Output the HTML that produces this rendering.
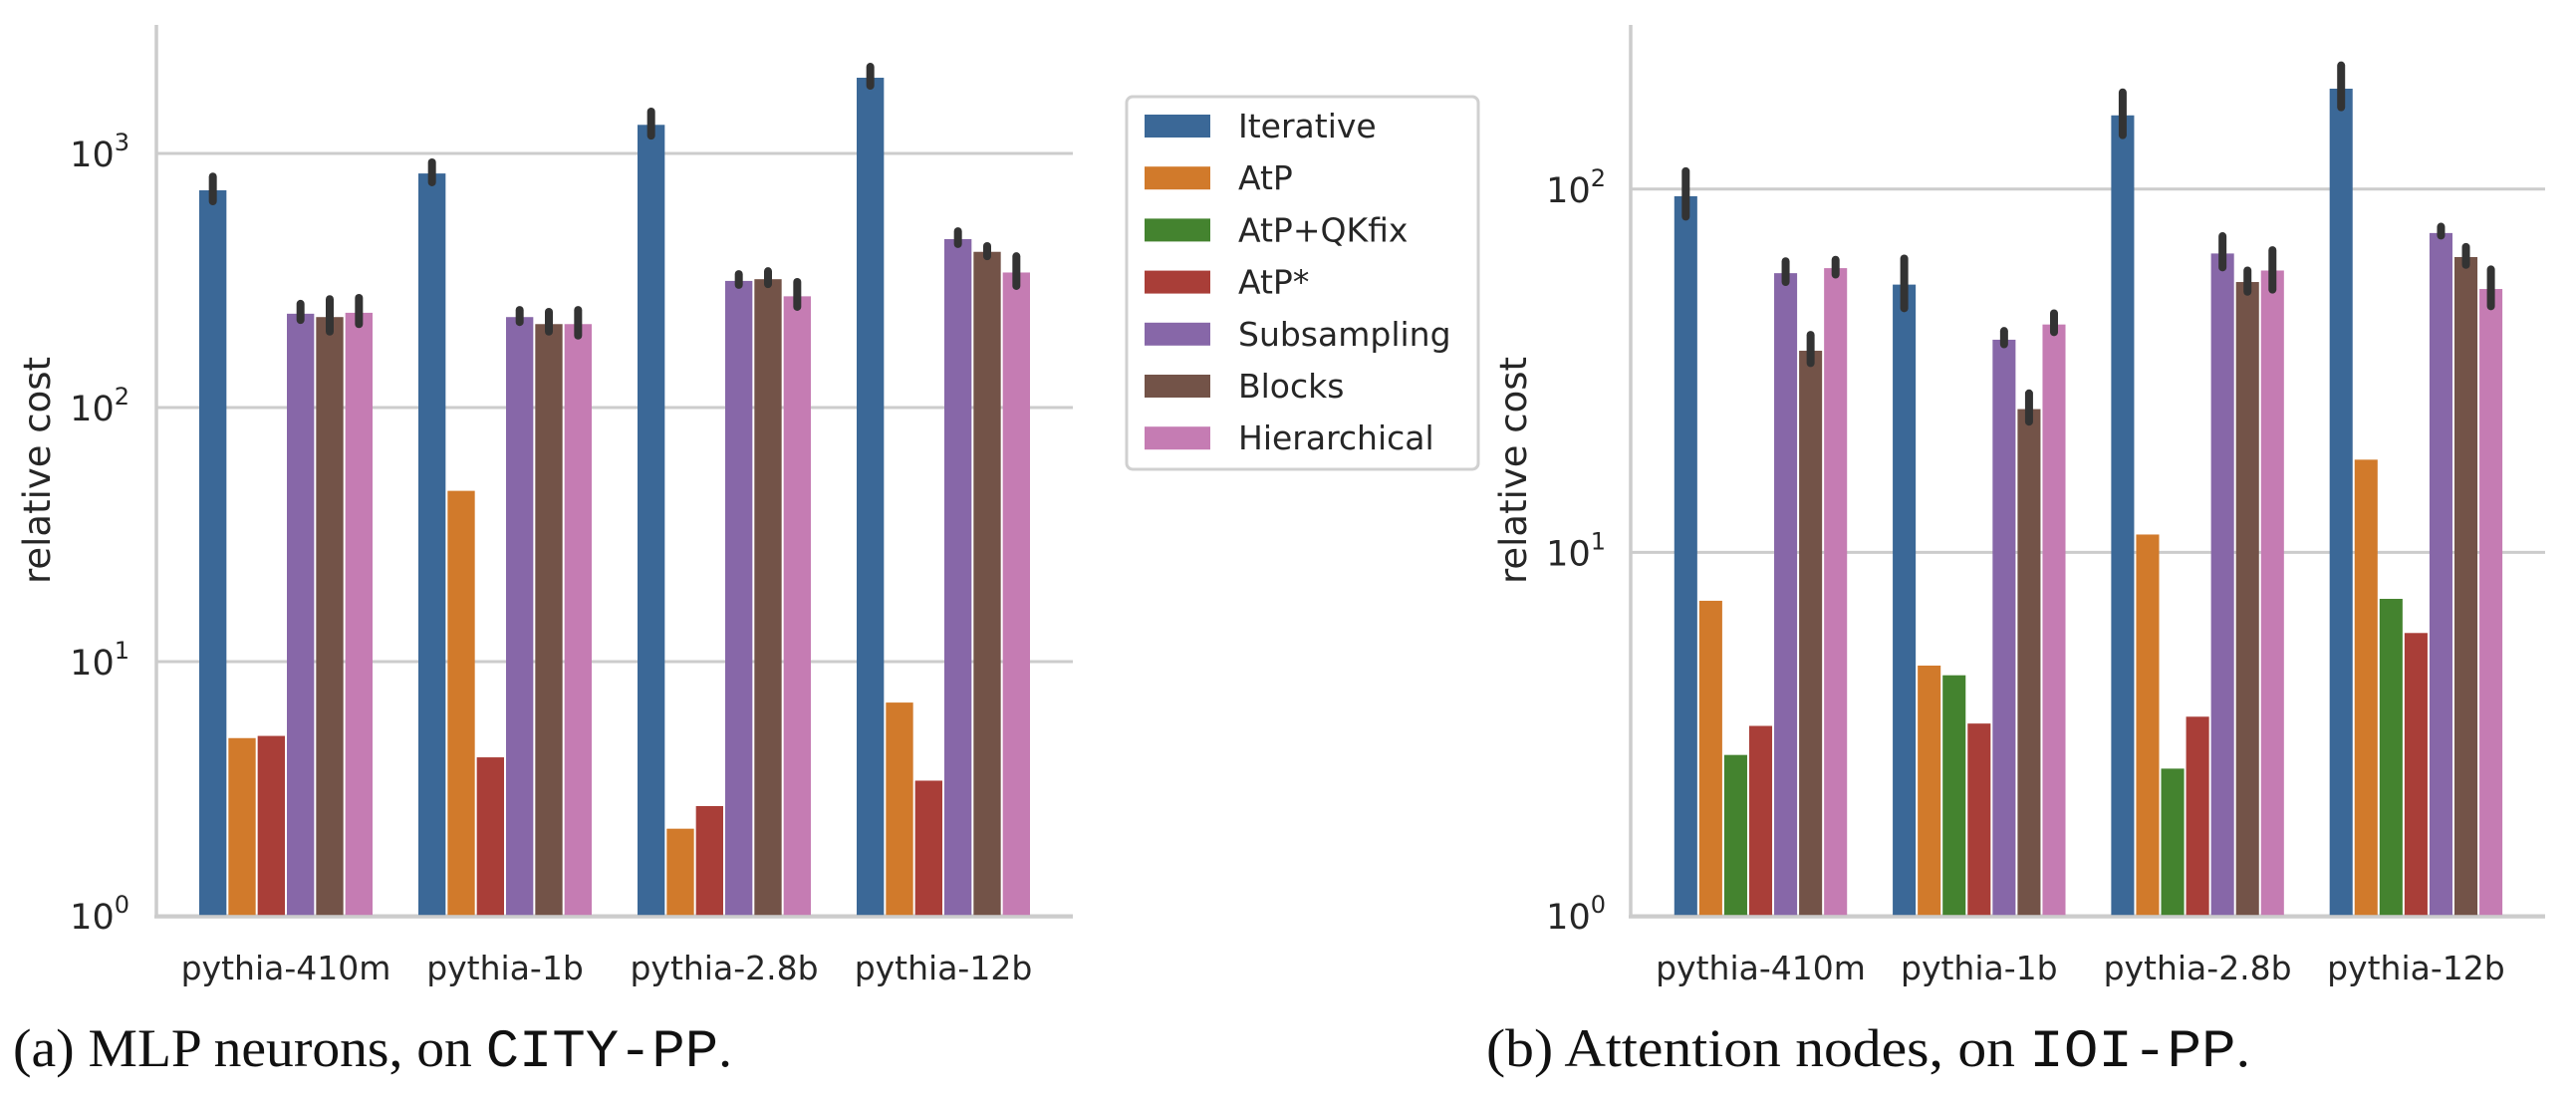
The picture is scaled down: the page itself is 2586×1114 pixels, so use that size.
<!DOCTYPE html>
<html><head><meta charset="utf-8"><style>
html,body{margin:0;padding:0;background:#fff;}
svg{display:block;}
text{font-family:"DejaVu Sans","Liberation Sans",sans-serif;fill:#262626;}
.cap{font-family:"Liberation Serif",serif;font-size:54px;fill:#111;}
.mono{font-family:"Liberation Mono",monospace;}
</style></head><body>
<svg id="fig" width="2586" height="1114" viewBox="0 0 2586 1114" xmlns="http://www.w3.org/2000/svg">
<g id="left"></g>
<g id="right"></g>
<g id="legend"></g>
<text class="cap" x="13" y="1070" textLength="722" lengthAdjust="spacingAndGlyphs">(a) MLP neurons, on <tspan class="mono">CITY-PP</tspan>.</text>
<text class="cap" x="1492" y="1070" textLength="767" lengthAdjust="spacingAndGlyphs">(b) Attention nodes, on <tspan class="mono">IOI-PP</tspan>.</text>
</svg>
<script>
const categories = ["pythia-410m","pythia-1b","pythia-2.8b","pythia-12b"];
const methods = ["Iterative","AtP","AtP+QKfix","AtP*","Subsampling","Blocks","Hierarchical"];
const colors = ["#3b6897","#d17a2b","#44832f","#a93e38","#8767a8","#735348","#c57cb3"];
// Left: MLP neurons (no AtP+QKfix)
const leftMethods = ["Iterative","AtP","AtP*","Subsampling","Blocks","Hierarchical"];
const leftIterative = [716, 834, 1296, 1986];
const leftAtP = [5.0, 47, 2.2, 6.9];
const leftAtPStar = [5.1, 4.2, 2.7, 3.4];
const leftSubsampling = [234, 227, 315, 460];
const leftBlocks = [227, 213, 320, 410];
const leftHierarchical = [236, 213, 274, 340];
const leftErrLo = {Iterative:[648,770,1175,1848], Subsampling:[221,217,304,440], Blocks:[199,199,306,394], Hierarchical:[213,192,249,301]};
const leftErrHi = {Iterative:[811,922,1462,2193], Subsampling:[256,242,335,494], Blocks:[267,238,344,432], Hierarchical:[270,242,312,394]};
// Right: attention nodes
const rightIterative = [95.6, 54.6, 159.6, 189];
const rightAtP = [7.36, 4.88, 11.2, 18.0];
const rightQKfix = [2.77, 4.59, 2.54, 7.45];
const rightAtPStar = [3.33, 3.38, 3.53, 6.0];
const rightSubsampling = [58.7, 38.5, 66.5, 75.7];
const rightBlocks = [35.9, 24.8, 55.5, 65];
const rightHierarchical = [60.6, 42.4, 59.7, 53.1];
const rightErrLo = {Iterative:[84,47,140.8,168], Subsampling:[55.5,37.4,60.9,74.5], Blocks:[33.2,22.9,52.2,61.9], Hierarchical:[58.2,40.4,52.9,47.6]};
const rightErrHi = {Iterative:[112,64.4,184.6,219], Subsampling:[63.3,40.7,74.2,78.8], Blocks:[39.7,27.4,59.7,69.3], Hierarchical:[63.9,45.5,67.9,60.1]};
const leftTicks = [0,1,2,3];
const rightTicks = [0,1,2];

const NS="http://www.w3.org/2000/svg";
function mk(tag, attrs, parent){const e=document.createElementNS(NS,tag);for(const k in attrs)e.setAttribute(k,attrs[k]);parent.appendChild(e);return e;}

function drawChart(g, cfg){
  const yScale = v => cfg.bottom - cfg.decade*Math.log10(v);
  const xCenter = i => cfg.c0 + cfg.step*i;
  cfg.ticks.forEach(t=>{
    const y=yScale(Math.pow(10,t));
    const ln=mk("line",{x1:cfg.left,x2:cfg.right,y1:y,y2:y,stroke:"#cccccc","stroke-width":3},g);
    
    
    const tx=mk("text",{x:cfg.labelX,y:y+13,"text-anchor":"end","font-size":35},g);
    
    
    tx.textContent="10";
    const sup=mk("tspan",{dy:-16,"font-size":24},tx);
    sup.textContent=String(t);
  });
  const n=cfg.series.length, bw=cfg.step*0.8/n;
  cfg.series.forEach((s,j)=>{
    s.values.forEach((v,i)=>{
      const x=xCenter(i)-cfg.step*0.4+j*bw;
      const y=yScale(v);
      const r=mk("rect",{x:x+1,y:y,width:bw-2,height:cfg.bottom-y,fill:s.color},g);
      
      
    });
  });
  cfg.series.forEach((s,j)=>{
    if(!cfg.lo[s.name]) return;
    s.values.forEach((v,i)=>{
      const x=xCenter(i)-cfg.step*0.4+(j+0.5)*bw;
      const e=mk("line",{x1:x,x2:x,y1:yScale(cfg.lo[s.name][i]),y2:yScale(cfg.hi[s.name][i]),stroke:"#333333","stroke-width":8,"stroke-linecap":"round"},g);
      
      
    });
  });
  const sl=mk("line",{x1:cfg.left,x2:cfg.left,y1:cfg.top,y2:cfg.bottom+2,stroke:"#cccccc","stroke-width":3.5},g);
  
  
  const sb=mk("line",{x1:cfg.left-2,x2:cfg.right,y1:cfg.bottom+1,y2:cfg.bottom+1,stroke:"#cccccc","stroke-width":3.5},g);
  
  
  categories.forEach((c,i)=>{
    const t=mk("text",{x:xCenter(i),y:cfg.bottom+64,"text-anchor":"middle","font-size":33},g);
    
    
    t.textContent=c;
  });
  const yl=mk("text",{x:0,y:0,"text-anchor":"middle","font-size":37,transform:`translate(${cfg.ylabelX},${(cfg.top+cfg.bottom)/2}) rotate(-90)`},g);
  
  
  yl.textContent="relative cost";
}

drawChart(document.getElementById('left'),{
  left:157,right:1077,top:25,bottom:919,decade:255,c0:287,step:220,labelX:130,ylabelX:50,ticks:leftTicks,
  series:[
    {name:"Iterative",values:leftIterative,color:colors[0]},
    {name:"AtP",values:leftAtP,color:colors[1]},
    {name:"AtP*",values:leftAtPStar,color:colors[3]},
    {name:"Subsampling",values:leftSubsampling,color:colors[4]},
    {name:"Blocks",values:leftBlocks,color:colors[5]},
    {name:"Hierarchical",values:leftHierarchical,color:colors[6]}],
  lo:leftErrLo,hi:leftErrHi});

drawChart(document.getElementById('right'),{
  left:1637,right:2555,top:25,bottom:919,decade:364.6,c0:1767.5,step:219.3,labelX:1612,ylabelX:1532,ticks:rightTicks,
  series:[
    {name:"Iterative",values:rightIterative,color:colors[0]},
    {name:"AtP",values:rightAtP,color:colors[1]},
    {name:"AtP+QKfix",values:rightQKfix,color:colors[2]},
    {name:"AtP*",values:rightAtPStar,color:colors[3]},
    {name:"Subsampling",values:rightSubsampling,color:colors[4]},
    {name:"Blocks",values:rightBlocks,color:colors[5]},
    {name:"Hierarchical",values:rightHierarchical,color:colors[6]}],
  lo:rightErrLo,hi:rightErrHi});

const lg=document.getElementById('legend');
const box=mk("rect",{x:1131,y:97,width:353,height:374,rx:6,fill:"#fff",stroke:"#d0d0d0","stroke-width":3},lg);


methods.forEach((m,k)=>{
  const y=126+k*52.2;
  const p=mk("rect",{x:1149,y:y-11,width:66,height:23,fill:colors[k]},lg);
  
  
  const t=mk("text",{x:1243,y:y+12,"font-size":33},lg);
  
  
  t.textContent=m;
});
</script>
</body></html>
